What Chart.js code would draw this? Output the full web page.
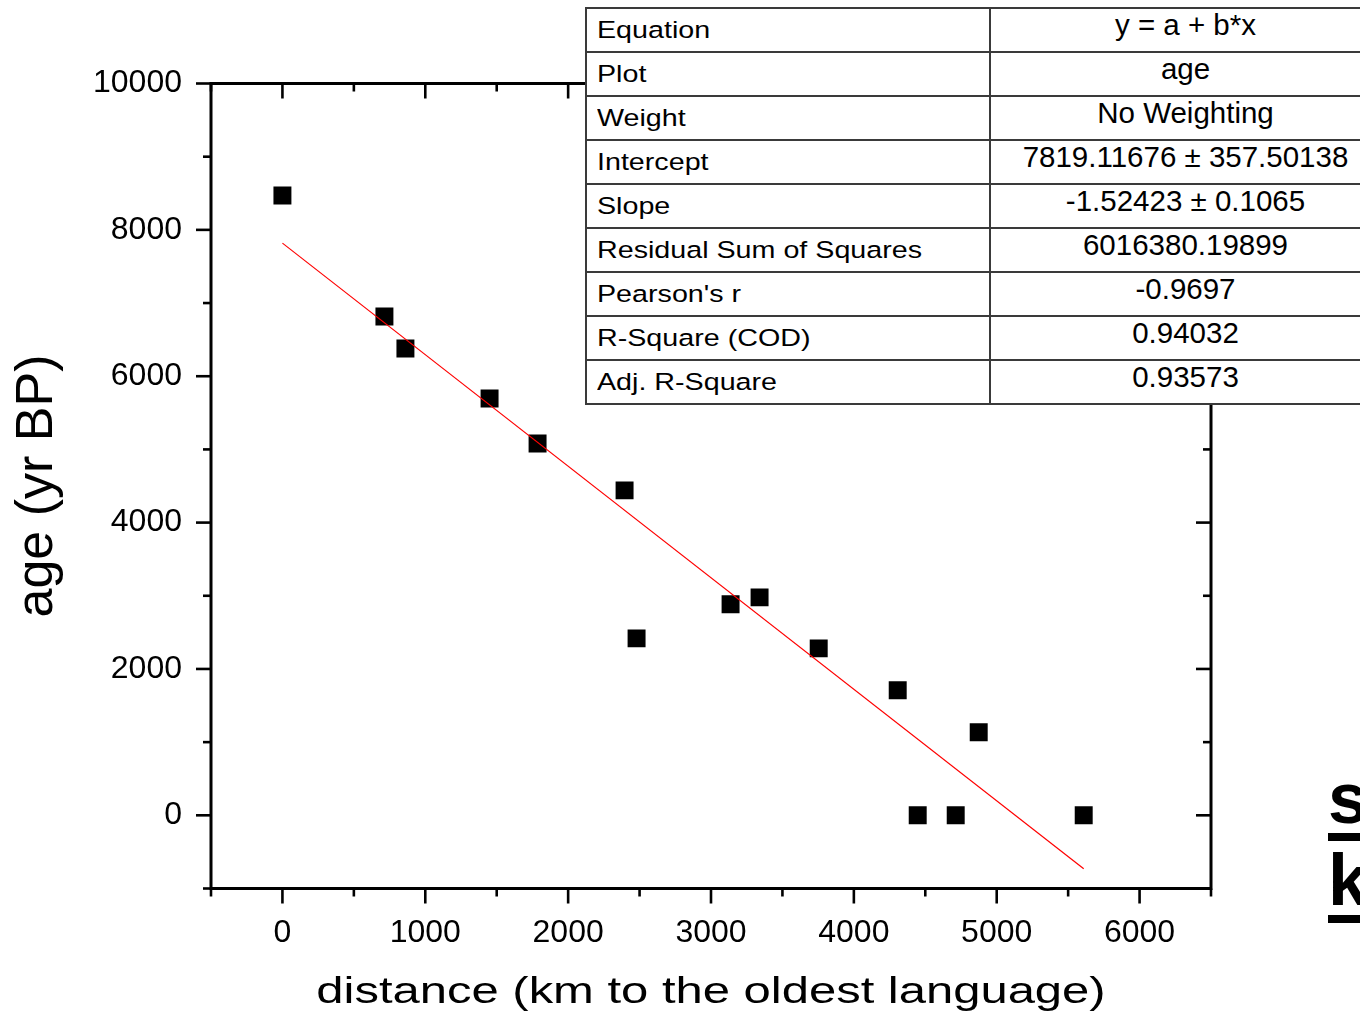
<!DOCTYPE html>
<html>
<head>
<meta charset="utf-8">
<title>age vs distance</title>
<script src="https://cdn.jsdelivr.net/npm/chart.js@4.4.1/dist/chart.umd.min.js"></script>
<style>
  html, body { margin: 0; padding: 0; background: #fff; overflow: hidden; }
  #wrap { position: relative; width: 1360px; height: 1025px; overflow: hidden; font-family: "Liberation Sans", Arial, sans-serif; color: #000; }
  #plot { position: absolute; left: 0; top: 0; }
  #fit-table { position: absolute; left: 585px; top: 7px; width: 797px; height: 398px; background: #fff; }
  .hl { position: absolute; left: 0; width: 797px; height: 2px; background: #3a3a3a; }
  .vl { position: absolute; top: 0; width: 2px; height: 398px; background: #3a3a3a; }
  .lbl { position: absolute; left: 12px; font-size: 24.5px; line-height: 1; white-space: nowrap; transform: scaleX(1.17); transform-origin: 0 0; }
  .val { position: absolute; left: 404px; width: 393px; text-align: center; font-size: 29.5px; line-height: 1; white-space: nowrap; }
  #side-note { position: absolute; left: 1328px; top: 757px; font-weight: bold; font-size: 72px; line-height: 82px; white-space: nowrap; }
  #side-note div { text-decoration: underline; text-decoration-thickness: 8px; text-underline-offset: 10px; }
</style>
</head>
<body>
<div id="wrap">
  <canvas id="plot" width="1360" height="1025"></canvas>
  <div id="fit-table"></div>
  <div id="side-note"><div>s</div><div>k</div></div>
</div>
<script>
document.addEventListener('DOMContentLoaded', () => {

    // distance to the oldest language (km) and age (yr BP)
    const distanceKm = [0, 714, 861, 1450, 1786, 2395, 2479, 3137, 3340, 3754, 4307, 4447, 4713, 4874, 5609];
    const ageBP = [8470, 6817, 6380, 5697, 5082, 4440, 2418, 2883, 2978, 2281, 1708, 0, 0, 1134, 0];

    // linear fit  y = a + b*x
    const fitIntercept = 7819.11676;
    const fitSlope = -1.52423;

    const xTickValues = [0, 1000, 2000, 3000, 4000, 5000, 6000];
    const yTickValues = [0, 2000, 4000, 6000, 8000, 10000];
    const xMinorValues = [-500, 500, 1500, 2500, 3500, 4500, 5500, 6500];
    const yMinorValues = [-1000, 1000, 3000, 5000, 7000, 9000];

    const tableLabels = ["Equation", "Plot", "Weight", "Intercept", "Slope", "Residual Sum of Squares", "Pearson's r", "R-Square (COD)", "Adj. R-Square"];
    const tableValues = ["y = a + b*x", "age", "No Weighting", "7819.11676 ± 357.50138", "-1.52423 ± 0.1065", "6016380.19899", "-0.9697", "0.94032", "0.93573"];

    const FONT = '"Liberation Sans", Arial, sans-serif';
    const X_TITLE_STRETCH = 1.36;

    // linear scale whose title is drawn horizontally widened
    class StretchTitleScale extends Chart.LinearScale {
        static id = 'stretchTitleLinear';
        static defaults = {};
        drawTitle() {
            const ctx = this.ctx;
            const cx = (this.left + this.right) / 2;
            ctx.save();
            ctx.translate(cx, 0);
            ctx.scale(X_TITLE_STRETCH, 1);
            ctx.translate(-cx, 0);
            super.drawTitle();
            ctx.restore();
        }
    }
    Chart.register(StretchTitleScale);

    // box frame with major/minor ticks (outside on left/bottom, inside on top/right)
    const axisFrame = {
        id: 'axisFrame',
        afterDraw(chart) {
            const { ctx, chartArea: a, scales: { x, y } } = chart;
            const seg = (x1, y1, x2, y2) => { ctx.beginPath(); ctx.moveTo(x1, y1); ctx.lineTo(x2, y2); ctx.stroke(); };
            ctx.save();
            ctx.strokeStyle = '#000';
            ctx.lineWidth = 2.6;
            xTickValues.forEach(v => {
                const px = x.getPixelForValue(v);
                seg(px, a.bottom, px, a.bottom + 15);
                seg(px, a.top, px, a.top + 15);
            });
            xMinorValues.forEach(v => {
                const px = x.getPixelForValue(v);
                seg(px, a.bottom, px, a.bottom + 8);
                seg(px, a.top, px, a.top + 8);
            });
            yTickValues.forEach(v => {
                const py = y.getPixelForValue(v);
                seg(a.left - 15, py, a.left, py);
                seg(a.right - 15, py, a.right, py);
            });
            yMinorValues.forEach(v => {
                const py = y.getPixelForValue(v);
                seg(a.left - 8, py, a.left, py);
                seg(a.right - 8, py, a.right, py);
            });
            ctx.lineWidth = 3;
            ctx.strokeRect(a.left, a.top, a.right - a.left, a.bottom - a.top);
            ctx.restore();
        }
    };

    const points = distanceKm.map((d, i) => ({ x: d, y: ageBP[i] }));
    const fitX = [Math.min(...distanceKm), Math.max(...distanceKm)];
    const fitPoints = fitX.map(d => ({ x: d, y: fitIntercept + fitSlope * d }));

    new Chart(document.getElementById('plot'), {
        type: 'scatter',
        data: {
            datasets: [
                { type: 'line', label: 'fit', data: fitPoints, borderColor: '#ff0000', borderWidth: 1.2, pointRadius: 0, fill: false, order: 0 },
                { type: 'scatter', label: 'age', data: points, pointStyle: 'rect', pointRadius: 12.7, backgroundColor: '#000', borderWidth: 0, order: 1 }
            ]
        },
        options: {
            responsive: false,
            animation: false,
            events: [],
            layout: { padding: { left: 0, top: 83.5, right: 149, bottom: 0 } },
            plugins: { legend: { display: false }, tooltip: { enabled: false } },
            scales: {
                x: {
                    type: 'stretchTitleLinear',
                    min: -500, max: 6500,
                    afterFit: s => { s.height = 136.5; },
                    afterBuildTicks: s => { s.ticks = xTickValues.map(v => ({ value: v })); },
                    grid: { display: false, drawTicks: false },
                    border: { display: false },
                    ticks: { color: '#000', font: { family: FONT, size: 32 }, padding: 25, maxRotation: 0, autoSkip: false, callback: v => String(v) },
                    title: { display: true, text: 'distance (km to the oldest language)', color: '#000', font: { family: FONT, size: 36 }, padding: { top: 0, bottom: 10 } }
                },
                y: {
                    type: 'linear',
                    min: -1000, max: 10000,
                    afterFit: s => { s.width = 211; },
                    afterBuildTicks: s => { s.ticks = yTickValues.map(v => ({ value: v })); },
                    grid: { display: false, drawTicks: false },
                    border: { display: false },
                    ticks: { color: '#000', font: { family: FONT, size: 32 }, padding: 29, autoSkip: false, callback: v => String(v) },
                    title: { display: true, text: 'age (yr BP)', color: '#000', font: { family: FONT, size: 52 }, padding: { top: 6, bottom: 0 } }
                }
            }
        },
        plugins: [axisFrame]
    });

    // fit results table
    const tbl = document.getElementById('fit-table');
    for (let i = 0; i <= tableLabels.length; i++) {
        const l = document.createElement('div'); l.className = 'hl'; l.style.top = (i * 44) + 'px'; tbl.appendChild(l);
    }
    [0, 404].forEach(xp => {
        const v = document.createElement('div'); v.className = 'vl'; v.style.left = xp + 'px'; tbl.appendChild(v);
    });
    tableLabels.forEach((t, i) => {
        const d = document.createElement('div'); d.className = 'lbl'; d.style.top = (i * 44 + 11.3) + 'px'; d.textContent = t; tbl.appendChild(d);
        const v = document.createElement('div'); v.className = 'val'; v.style.top = (i * 44 + 3.2) + 'px'; v.textContent = tableValues[i]; tbl.appendChild(v);
    });

});
</script>
</body>
</html>
